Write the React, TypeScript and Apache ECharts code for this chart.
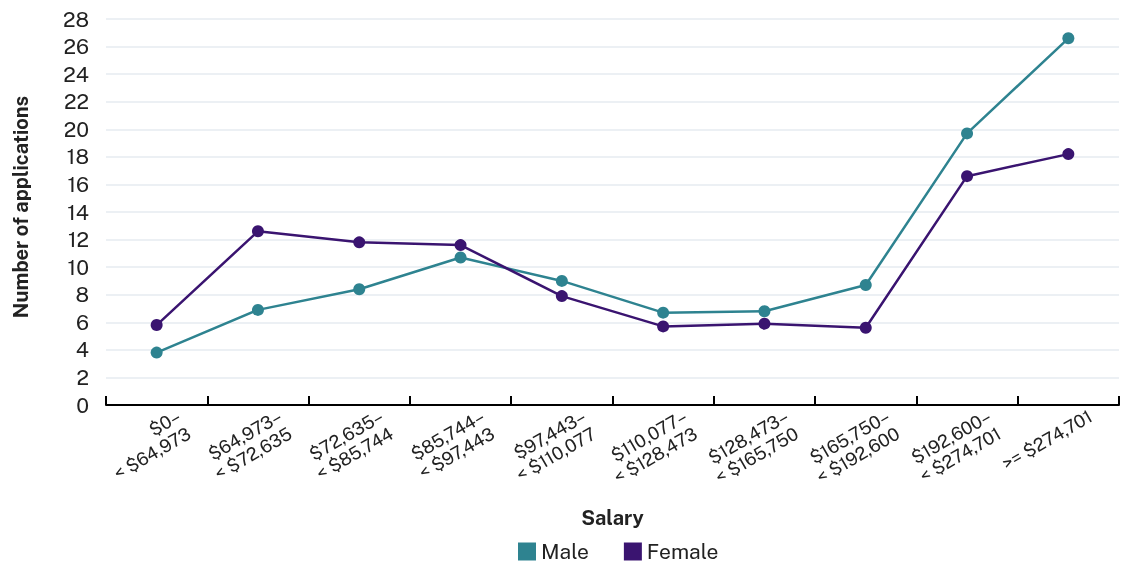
import React, { useEffect, useRef } from "react";
import * as echarts from "echarts";

const categories = [
  "$0–\n< $64,973",
  "$64,973–\n< $72,635",
  "$72,635–\n< $85,744",
  "$85,744–\n< $97,443",
  "$97,443–\n< $110,077",
  "$110,077–\n< $128,473",
  "$128,473–\n< $165,750",
  "$165,750–\n< $192,600",
  "$192,600–\n< $274,701",
  ">= $274,701",
];
const maleValues = [3.8, 6.9, 8.4, 10.7, 9.0, 6.7, 6.8, 8.7, 19.7, 26.6];
const femaleValues = [5.8, 12.6, 11.8, 11.6, 7.9, 5.7, 5.9, 5.6, 16.6, 18.2];
const yMin = 0;
const yMax = 28;
const yStep = 2;

const FONT = "Public Sans, Roboto, sans-serif";
const MALE = "#2e8390";
const FEMALE = "#3a1470";

export default function App() {
  const ref = useRef<HTMLDivElement>(null);
  useEffect(() => {
    if (!ref.current) return;
    const chart = echarts.init(ref.current, null, { renderer: "svg" });
    chart.setOption({
      animation: false,
      textStyle: { fontFamily: FONT },
      grid: { left: 106, right: 7, top: 19, bottom: 160, containLabel: false },
      legend: {
        bottom: -2,
        left: 513,
        itemWidth: 18,
        itemHeight: 18,
        itemGap: 35,
        icon: "rect",
        textStyle: { fontSize: 21, color: "#222", fontFamily: FONT },
        data: ["Male", "Female"],
      },
      xAxis: {
        type: "category",
        data: categories,
        boundaryGap: true,
        name: "Salary",
        nameLocation: "middle",
        nameGap: 103,
        nameTextStyle: { fontSize: 20, fontWeight: "bold", color: "#222", fontFamily: FONT },
        axisLine: { show: true, lineStyle: { color: "#000", width: 2 } },
        axisTick: {
          show: true,
          alignWithLabel: false,
          interval: 0,
          inside: true,
          length: 9,
          lineStyle: { color: "#000", width: 2 },
        },
        axisLabel: {
          rotate: 30,
          align: "right",
          verticalAlign: "top",
          padding: [0, -20, 0, 0],
          margin: 11,
          fontSize: 18,
          lineHeight: 20,
          color: "#222",
          fontFamily: FONT,
          interval: 0,
        },
      },
      yAxis: {
        type: "value",
        min: yMin,
        max: yMax,
        interval: yStep,
        name: "Number of applications",
        nameLocation: "middle",
        nameGap: 75,
        nameTextStyle: {
          fontSize: 20,
          fontWeight: "bold",
          color: "#222",
          fontFamily: FONT,
          padding: [0, 0, 0, 10],
        },
        axisLine: { show: false },
        axisTick: { show: false },
        axisLabel: { fontSize: 21, color: "#222", margin: 17, fontFamily: FONT },
        splitLine: { lineStyle: { color: "#e6ebf0", width: 1.5 } },
      },
      series: [
        {
          name: "Male",
          type: "line",
          data: maleValues,
          symbol: "circle",
          symbolSize: 12,
          color: MALE,
          lineStyle: { width: 2.5, color: MALE },
          itemStyle: { color: MALE },
        },
        {
          name: "Female",
          type: "line",
          data: femaleValues,
          symbol: "circle",
          symbolSize: 12,
          color: FEMALE,
          lineStyle: { width: 2.5, color: FEMALE },
          itemStyle: { color: FEMALE },
        },
      ],
    });
    return () => chart.dispose();
  }, []);
  return (
    <div
      ref={ref}
      style={{ position: "fixed", left: 0, top: 0, width: 1126, height: 565 }}
    />
  );
}
